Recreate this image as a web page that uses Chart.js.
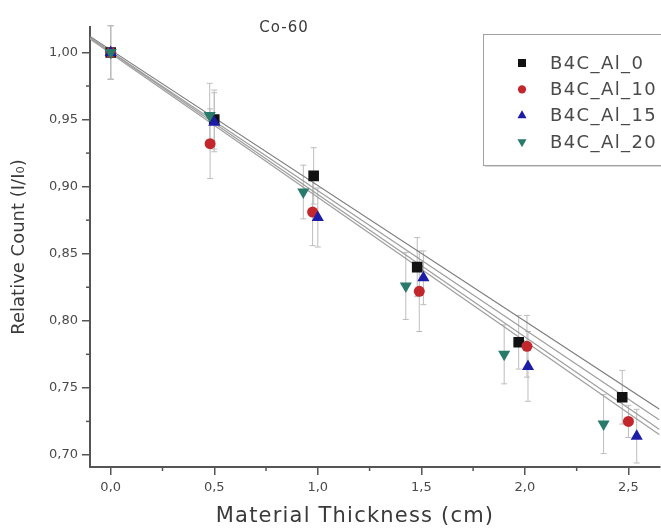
<!DOCTYPE html>
<html>
<head>
<meta charset="utf-8">
<script src="https://cdn.jsdelivr.net/npm/chart.js@4.4.0/dist/chart.umd.min.js"></script>
<style>
  html, body { margin: 0; padding: 0; background: #fff; overflow: hidden; }
</style>
</head>
<body>
<canvas id="myChart" width="667" height="530"></canvas>
<script>
    // values
    const seriesNames = ["B4C_Al_0", "B4C_Al_10", "B4C_Al_15", "B4C_Al_20"];

    const xAl0  = [0, 0.50, 0.98, 1.48, 1.97, 2.47];
    const yAl0  = [1.000, 0.950, 0.908, 0.840, 0.784, 0.743];
    const eAl0  = [0.020, 0.022, 0.021, 0.022, 0.020, 0.020];

    const xAl10 = [0, 0.48, 0.975, 1.49, 2.01, 2.50];
    const yAl10 = [1.000, 0.932, 0.881, 0.822, 0.781, 0.725];
    const eAl10 = [0.020, 0.026, 0.025, 0.030, 0.023, 0.012];

    const xAl15 = [0, 0.50, 1.00, 1.51, 2.015, 2.54];
    const yAl15 = [1.000, 0.948, 0.877, 0.832, 0.766, 0.714];
    const eAl15 = [0.020, 0.022, 0.022, 0.020, 0.026, 0.020];

    const xAl20 = [0, 0.478, 0.93, 1.425, 1.90, 2.38];
    const yAl20 = [1.000, 0.953, 0.896, 0.826, 0.775, 0.723];
    const eAl20 = [0.020, 0.024, 0.020, 0.025, 0.022, 0.022];

    // linear fit lines, value at each end of the x axis
    const fitX     = [-0.1, 2.65];
    const fitAl0   = [1.012, 0.734];
    const fitAl10  = [1.011, 0.726];
    const fitAl15  = [1.011, 0.719];
    const fitAl20  = [1.010, 0.715];

    const xTickValues = [0, 0.5, 1.0, 1.5, 2.0, 2.5];
    const yTickValues = [0.70, 0.75, 0.80, 0.85, 0.90, 0.95, 1.00];

    const colors  = ["#111111", "#c1272d", "#1c1ca6", "#2a7a6c"];
    const shapes  = ["rect", "circle", "triangle", "triangle"];
    const rots    = [0, 0, 0, 180];
    const radii   = [7.5, 5.5, 7, 7];

    const xs = [xAl0, xAl10, xAl15, xAl20];
    const ys = [yAl0, yAl10, yAl15, yAl20];
    const es = [eAl0, eAl10, eAl15, eAl20];
    const fits = [fitAl0, fitAl10, fitAl15, fitAl20];

    const datasets = [];
    seriesNames.forEach((name, i) => {
        datasets.push({
            type: 'scatter',
            label: name,
            data: xs[i].map((x, j) => ({ x: x, y: ys[i][j], err: es[i][j] })),
            backgroundColor: colors[i],
            borderColor: colors[i],
            pointStyle: shapes[i],
            rotation: rots[i],
            pointRadius: radii[i],
            borderWidth: 0,
            order: 4 - i   // later series on top, as in the original plot
        });
    });
    seriesNames.forEach((name, i) => {
        datasets.push({
            type: 'line',
            label: name + ' fit',
            data: fitX.map((x, j) => ({ x: x, y: fits[i][j] })),
            borderColor: i === 0 ? '#7c7c7c' : '#9e9e9e',
            borderWidth: 1.2,
            pointRadius: 0,
            fill: false,
            order: 10
        });
    });

    const fontFam = "'DejaVu Sans', Verdana, sans-serif";

    // error bars, minor ticks, titles and legend box
    const extras = {
        id: 'extras',
        beforeDatasetsDraw(chart) {
            const ctx = chart.ctx;
            const xS = chart.scales.x, yS = chart.scales.y;
            ctx.save();
            ctx.strokeStyle = '#bdbdbd';
            ctx.lineWidth = 1;
            for (let i = 0; i < seriesNames.length; i++) {
                chart.data.datasets[i].data.forEach(p => {
                    const px = xS.getPixelForValue(p.x);
                    const top = yS.getPixelForValue(p.y + p.err);
                    const bot = yS.getPixelForValue(p.y - p.err);
                    ctx.beginPath();
                    ctx.moveTo(px, top); ctx.lineTo(px, bot);
                    ctx.moveTo(px - 3, top); ctx.lineTo(px + 3, top);
                    ctx.moveTo(px - 3, bot); ctx.lineTo(px + 3, bot);
                    ctx.stroke();
                });
            }
            ctx.restore();
        },
        afterDraw(chart) {
            const ctx = chart.ctx;
            const area = chart.chartArea;
            const xS = chart.scales.x, yS = chart.scales.y;
            ctx.save();
            // minor ticks
            ctx.strokeStyle = '#555';
            ctx.lineWidth = 1.5;
            [0.25, 0.75, 1.25, 1.75, 2.25].forEach(v => {
                const px = xS.getPixelForValue(v);
                ctx.beginPath(); ctx.moveTo(px, area.bottom); ctx.lineTo(px, area.bottom + 4); ctx.stroke();
            });
            [0.725, 0.775, 0.825, 0.875, 0.925, 0.975].forEach(v => {
                const py = yS.getPixelForValue(v);
                ctx.beginPath(); ctx.moveTo(area.left - 4, py); ctx.lineTo(area.left, py); ctx.stroke();
            });

            // x axis title
            ctx.fillStyle = '#3a3a3a';
            ctx.textAlign = 'center';
            ctx.textBaseline = 'middle';
            ctx.font = '21px ' + fontFam;
            ctx.letterSpacing = '1.2px';
            ctx.fillText('Material Thickness (cm)', 355, 517);

            // plot title
            ctx.font = '15px ' + fontFam;
            ctx.letterSpacing = '1px';
            ctx.fillText('Co-60', 284, 28);

            // legend box
            const bx = 483, by = 34, bw = 190, bh = 131;
            ctx.fillStyle = '#d8d8d8';
            ctx.fillRect(bx + 2, by + 2, bw, bh);
            ctx.fillStyle = '#fff';
            ctx.fillRect(bx, by, bw, bh);
            ctx.strokeStyle = '#a0a0a0';
            ctx.lineWidth = 1;
            ctx.strokeRect(bx + 0.5, by + 0.5, bw, bh);
            ctx.font = '18px ' + fontFam;
            ctx.letterSpacing = '1.4px';
            ctx.textAlign = 'left';
            seriesNames.forEach((name, i) => {
                const ly = 63 + i * 26.3;
                ctx.fillStyle = colors[i];
                ctx.strokeStyle = colors[i];
                Chart.helpers.drawPoint(ctx, {
                    pointStyle: shapes[i], rotation: rots[i], radius: radii[i] * 0.75, borderWidth: 0
                }, 522, ly);
                ctx.fillStyle = '#4a4a4a';
                ctx.fillText(name, 550, ly + 1);
            });
            ctx.restore();
        }
    };

    const ctx = document.getElementById('myChart').getContext('2d');

    const chart = new Chart(ctx, {
        data: { datasets: datasets },
        options: {
            responsive: false,
            animation: false,
            layout: { padding: { top: 27, right: 0, left: 0, bottom: 0 } },
            plugins: {
                legend: { display: false },
                tooltip: { enabled: false }
            },
            scales: {
                x: {
                    type: 'linear',
                    min: -0.1,
                    max: 2.65,
                    afterBuildTicks: s => { s.ticks = xTickValues.map(v => ({ value: v })); },
                    afterFit: s => { s.height = 63; },
                    grid: { drawOnChartArea: false, drawTicks: true, tickLength: 8, color: '#555', lineWidth: 1.5 },
                    border: { display: true, color: '#555', width: 2 },
                    ticks: {
                        color: '#4a4a4a',
                        font: { family: fontFam, size: 13 },
                        padding: 5,
                        maxRotation: 0,
                        callback: v => v.toFixed(1).replace('.', ',')
                    }
                },
                y: {
                    type: 'linear',
                    min: 0.691,
                    max: 1.019,
                    afterBuildTicks: s => { s.ticks = yTickValues.map(v => ({ value: v })); },
                    afterFit: s => { s.width = 90; },
                    grid: { drawOnChartArea: false, drawTicks: true, tickLength: 8, color: '#555', lineWidth: 1.5 },
                    border: { display: true, color: '#555', width: 2 },
                    ticks: {
                        color: '#4a4a4a',
                        font: { family: fontFam, size: 13 },
                        padding: 4,
                        callback: v => v.toFixed(2).replace('.', ',')
                    },
                    title: {
                        display: true,
                        text: 'Relative Count (I/I₀)',
                        color: '#3a3a3a',
                        font: { family: fontFam, size: 18 },
                        padding: { top: 9, bottom: 0 }
                    }
                }
            }
        },
        plugins: [extras]
    });
</script>
</body>
</html>
